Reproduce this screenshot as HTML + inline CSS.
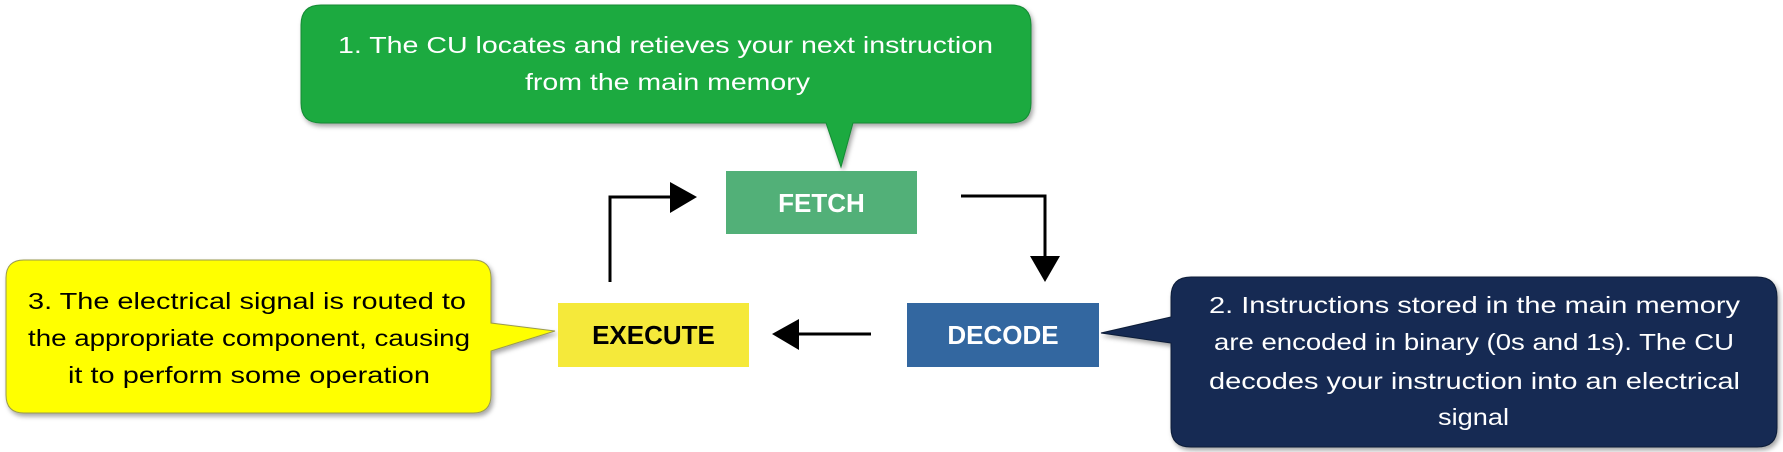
<!DOCTYPE html>
<html><head><meta charset="utf-8"><style>
html,body{margin:0;padding:0;background:#fff;}
svg{display:block;}
.t{font-family:"Liberation Sans",sans-serif;font-size:23px;}
.b{font-family:"Liberation Sans",sans-serif;font-size:26px;font-weight:bold;}
</style></head><body>
<svg width="1783" height="452" viewBox="0 0 1783 452" xmlns="http://www.w3.org/2000/svg">
<defs>
<filter id="sh" x="-5%" y="-5%" width="110%" height="115%">
<feDropShadow dx="2" dy="3" stdDeviation="2.5" flood-color="#000" flood-opacity="0.35"/>
</filter>
</defs>
<!-- green callout -->
<g filter="url(#sh)">
<path d="M321,5 H1011 Q1031,5 1031,25 V103 Q1031,123 1011,123 H853 L841,167 L826,123 H321 Q301,123 301,103 V25 Q301,5 321,5 Z" fill="#1aaa40" stroke="#148a34" stroke-width="1"/>
</g>
<text class="t" fill="#fff" x="338" y="53" textLength="655" lengthAdjust="spacingAndGlyphs">1. The CU locates and retieves your next instruction</text>
<text class="t" fill="#fff" x="525" y="90" textLength="285" lengthAdjust="spacingAndGlyphs">from the main memory</text>

<!-- yellow callout -->
<g filter="url(#sh)">
<path d="M24,260 H473 Q491,260 491,278 V323 L555,331 L491,351 V395 Q491,413 473,413 H24 Q6,413 6,395 V278 Q6,260 24,260 Z" fill="#ffff00" stroke="#9a9a50" stroke-width="1"/>
</g>
<text class="t" fill="#000" x="28" y="309" textLength="438" lengthAdjust="spacingAndGlyphs">3. The electrical signal is routed to</text>
<text class="t" fill="#000" x="28" y="346" textLength="442" lengthAdjust="spacingAndGlyphs">the appropriate component, causing</text>
<text class="t" fill="#000" x="68" y="383" textLength="362" lengthAdjust="spacingAndGlyphs">it to perform some operation</text>

<!-- navy callout -->
<g filter="url(#sh)">
<path d="M1191,277 H1757 Q1777,277 1777,297 V428 Q1777,447 1757,447 H1191 Q1171,447 1171,428 V343 L1101,333 L1171,317 V297 Q1171,277 1191,277 Z" fill="#142c52" stroke="#0c1c38" stroke-width="1"/>
</g>
<text class="t" fill="#fff" x="1209" y="313" textLength="531" lengthAdjust="spacingAndGlyphs">2. Instructions stored in the main memory</text>
<text class="t" fill="#fff" x="1214" y="350" textLength="520" lengthAdjust="spacingAndGlyphs">are encoded in binary (0s and 1s). The CU</text>
<text class="t" fill="#fff" x="1209" y="389" textLength="531" lengthAdjust="spacingAndGlyphs">decodes your instruction into an electrical</text>
<text class="t" fill="#fff" x="1438" y="425" textLength="71" lengthAdjust="spacingAndGlyphs">signal</text>

<!-- boxes -->
<rect x="726" y="171" width="191" height="63" fill="#52b078"/>
<text class="b" fill="#fff" x="821.5" y="212" text-anchor="middle">FETCH</text>
<rect x="558" y="303" width="191" height="64" fill="#f5e93a"/>
<text class="b" fill="#000" x="653.5" y="344" text-anchor="middle">EXECUTE</text>
<rect x="907" y="303" width="192" height="64" fill="#3367a0"/>
<text class="b" fill="#fff" x="1003" y="344" text-anchor="middle">DECODE</text>

<!-- arrows -->
<polyline points="610,282 610,197 672,197" fill="none" stroke="#000" stroke-width="3"/>
<polygon points="670,182 697,197 670,213" fill="#000"/>
<polyline points="961,196 1045,196 1045,258" fill="none" stroke="#000" stroke-width="3"/>
<polygon points="1030,256 1060,256 1045,282" fill="#000"/>
<line x1="871" y1="334" x2="797" y2="334" stroke="#000" stroke-width="3"/>
<polygon points="799,319 799,350 772,334" fill="#000"/>
</svg>
</body></html>
